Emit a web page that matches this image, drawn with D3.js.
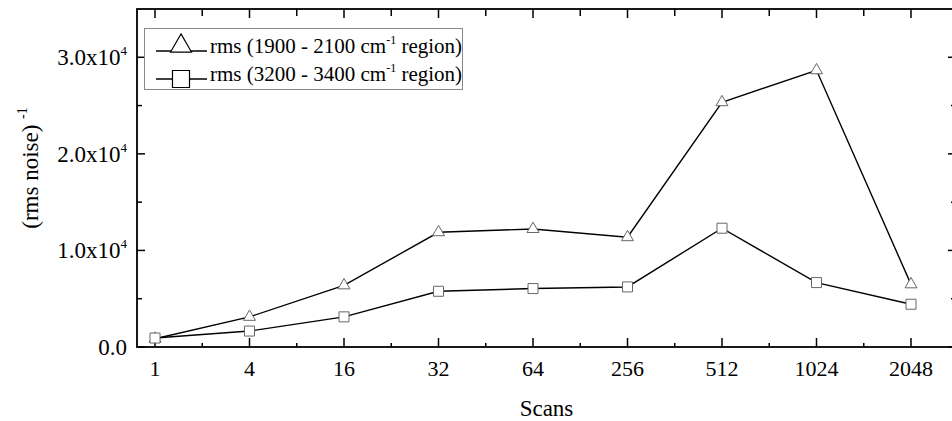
<!DOCTYPE html>
<html>
<head>
<meta charset="utf-8">
<script src="https://cdn.jsdelivr.net/npm/d3@7"></script>
<style>
  body { margin: 0; background: #fff; }
</style>
</head>
<body>
<svg id="chart" width="952" height="421" font-family="'Liberation Serif', 'Times New Roman', 'DejaVu Serif', serif"></svg>
<script>
"use strict";

var scans = ["1", "4", "16", "32", "64", "256", "512", "1024", "2048"];
var rmsLow = [850, 3120, 6380, 11880, 12215, 11365, 25345, 28650, 6485];   // 1900 - 2100 cm-1
var rmsHigh = [930, 1650, 3120, 5770, 6050, 6220, 12300, 6670, 4430];      // 3200 - 3400 cm-1
var yMajorTicks = [0, 10000, 20000, 30000];
var yMinorTicks = [5000, 15000, 25000];
var legendLabels = ["rms (1900 - 2100 cm", "rms (3200 - 3400 cm"];

var svg = d3.select("#chart");
var plotLeft = 137, plotRight = 956, plotTop = 9, plotBottom = 347;
var MARKER_STROKE = "#666";

var x = d3.scalePoint().domain(scans).range([155, 911]);
var y = d3.scaleLinear().domain([0, 35000]).range([plotBottom, plotTop]);

// minor x positions halfway between categories
var xStep = x.step();
var xMinor = scans.slice(0, -1).map(function (s) { return x(s) + xStep / 2; });

var ticks = svg.append("g").attr("stroke", "#000").attr("stroke-width", 1.5);

// bottom + top ticks (inward)
scans.forEach(function (s) {
  ticks.append("line").attr("x1", x(s)).attr("x2", x(s)).attr("y1", plotBottom).attr("y2", plotBottom - 9);
  ticks.append("line").attr("x1", x(s)).attr("x2", x(s)).attr("y1", plotTop).attr("y2", plotTop + 9);
});
xMinor.forEach(function (v) {
  ticks.append("line").attr("x1", v).attr("x2", v).attr("y1", plotBottom).attr("y2", plotBottom - 4);
  ticks.append("line").attr("x1", v).attr("x2", v).attr("y1", plotTop).attr("y2", plotTop + 7);
});
// left + right ticks (inward)
yMajorTicks.forEach(function (v) {
  ticks.append("line").attr("x1", plotLeft).attr("x2", plotLeft + 8).attr("y1", y(v)).attr("y2", y(v));
  ticks.append("line").attr("x1", plotRight).attr("x2", plotRight - 8).attr("y1", y(v)).attr("y2", y(v));
});
yMinorTicks.forEach(function (v) {
  ticks.append("line").attr("x1", plotLeft).attr("x2", plotLeft + 5).attr("y1", y(v)).attr("y2", y(v));
  ticks.append("line").attr("x1", plotRight).attr("x2", plotRight - 5).attr("y1", y(v)).attr("y2", y(v));
});

// frame
svg.append("rect")
  .attr("x", plotLeft).attr("y", plotTop)
  .attr("width", plotRight - plotLeft).attr("height", plotBottom - plotTop)
  .attr("fill", "none").attr("stroke", "#000").attr("stroke-width", 1.8);

// x tick labels
svg.append("g").selectAll("text")
  .data(scans).enter().append("text")
  .attr("x", function (d) { return x(d); })
  .attr("y", 376)
  .attr("text-anchor", "middle")
  .attr("font-size", 22)
  .text(function (d) { return d; });

// y tick labels
var yl = svg.append("g").selectAll("text")
  .data(yMajorTicks).enter().append("text")
  .attr("x", 127)
  .attr("y", function (d) { return y(d) + 8; })
  .attr("text-anchor", "end")
  .attr("font-size", 23);
yl.each(function (d) {
  var t = d3.select(this);
  if (d === 0) { t.text("0.0"); return; }
  t.append("tspan").text((d / 10000).toFixed(1) + "x10");
  t.append("tspan").attr("font-size", 13).attr("dy", -10).text("4");
});

// axis titles
svg.append("text")
  .attr("x", (plotLeft + plotRight) / 2).attr("y", 416)
  .attr("text-anchor", "middle").attr("font-size", 23)
  .text("Scans");

var yt = svg.append("text")
  .attr("transform", "translate(38,168) rotate(-90)")
  .attr("text-anchor", "middle").attr("font-size", 23);
yt.append("tspan").text("(rms noise) ");
yt.append("tspan").attr("font-size", 14).attr("dy", -11).text("-1");

// series
var line = d3.line()
  .x(function (d, i) { return x(scans[i]); })
  .y(function (d) { return y(d); });

var series = [
  { values: rmsLow, symbol: d3.symbolTriangle, size: 62 },
  { values: rmsHigh, symbol: d3.symbolSquare, size: 100 }
];

series.forEach(function (s) {
  svg.append("path")
    .datum(s.values)
    .attr("d", line)
    .attr("fill", "none")
    .attr("stroke", "#000")
    .attr("stroke-width", 1.4);
});

series.forEach(function (s) {
  svg.append("g").selectAll("path")
    .data(s.values).enter().append("path")
    .attr("d", d3.symbol().type(s.symbol).size(s.size))
    .attr("transform", function (d, i) { return "translate(" + x(scans[i]) + "," + y(d) + ")"; })
    .attr("fill", "#fff")
    .attr("stroke", MARKER_STROKE)
    .attr("stroke-width", 1);
});

// legend
var legend = svg.append("g");
legend.append("rect")
  .attr("x", 144.5).attr("y", 28.5).attr("width", 318).attr("height", 61)
  .attr("fill", "#fff").attr("stroke", "#888").attr("stroke-width", 1);

[{ y: 51, symbol: d3.symbolTriangle, size: 190, dy: -5 },
 { y: 79, symbol: d3.symbolSquare, size: 290, dy: 0 }].forEach(function (row, i) {
  legend.append("line")
    .attr("x1", 156).attr("x2", 207).attr("y1", row.y).attr("y2", row.y)
    .attr("stroke", "#000").attr("stroke-width", 1.4);
  legend.append("path")
    .attr("d", d3.symbol().type(row.symbol).size(row.size))
    .attr("transform", "translate(181," + (row.y + row.dy) + ")")
    .attr("fill", "#fff").attr("stroke", "#000").attr("stroke-width", 1.2);
  var t = legend.append("text")
    .attr("x", 210).attr("y", row.y + 2)
    .attr("font-size", 21);
  t.append("tspan").text(legendLabels[i]);
  t.append("tspan").attr("font-size", 12).attr("dy", -9).text("-1");
  t.append("tspan").attr("dy", 9).text(" region)");
});
</script>
</body>
</html>
